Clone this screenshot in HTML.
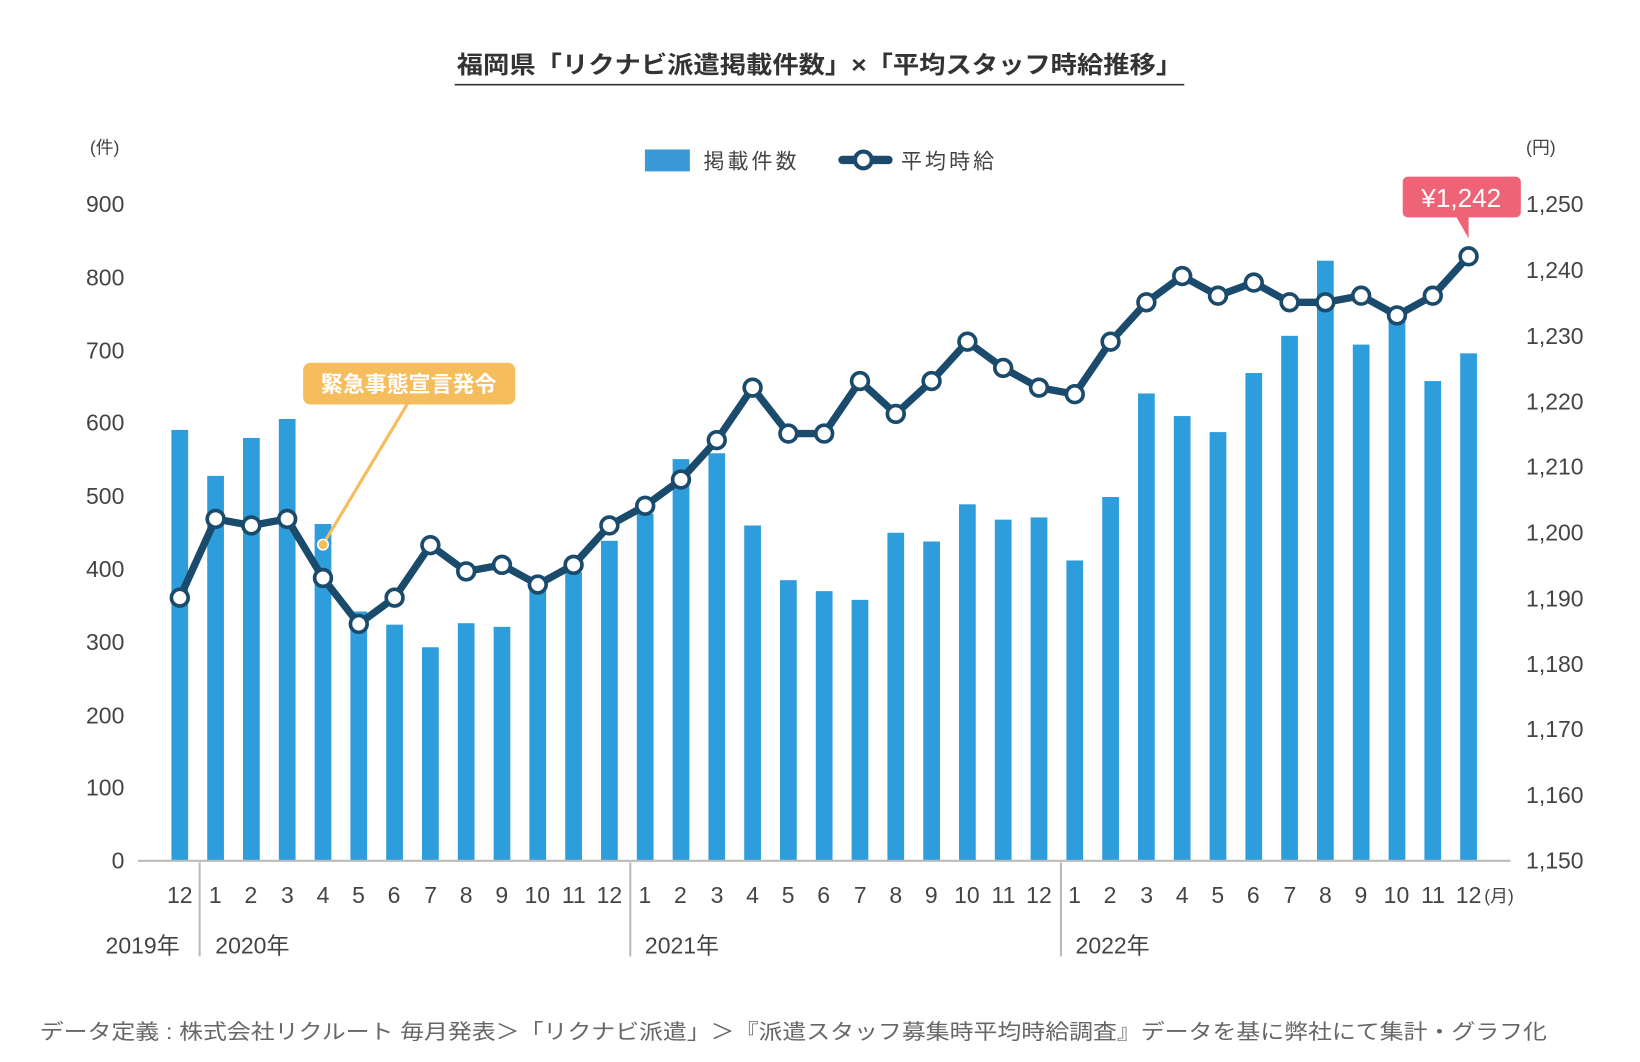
<!DOCTYPE html>
<html><head><meta charset="utf-8"><style>
html,body{margin:0;padding:0;background:#fff;}
svg{display:block;}
text{font-family:"Liberation Sans","Noto Sans CJK JP",sans-serif;fill:#444;}
</style></head><body>
<svg id="s" width="1640" height="1062" viewBox="0 0 1569 1016" preserveAspectRatio="none" xmlns="http://www.w3.org/2000/svg">
<text x="437" y="70" font-size="23" font-weight="bold" textLength="694" lengthAdjust="spacingAndGlyphs" style="fill:#333">福岡県「リクナビ派遣掲載件数」×「平均スタッフ時給推移」</text>
<line x1="435" y1="81" x2="1133" y2="81" stroke="#333" stroke-width="1.5"/>
<text x="86" y="147" font-size="17">(件)</text>
<text x="1460" y="147" font-size="17">(円)</text>
<rect x="617" y="143" width="43" height="21" fill="#3a9ad9"/>
<text x="673" y="161" font-size="20" textLength="89">掲載件数</text>
<line x1="806" y1="153" x2="850" y2="153" stroke="#1a4a6c" stroke-width="8" stroke-linecap="round"/>
<circle cx="826" cy="153" r="8" fill="#fff" stroke="#1a4a6c" stroke-width="4"/>
<text x="862" y="161" font-size="20" textLength="89">平均時給</text>
<g font-size="22" text-anchor="end">
<text x="119" y="203">900</text><text x="119" y="273">800</text><text x="119" y="343">700</text><text x="119" y="412">600</text><text x="119" y="482">500</text><text x="119" y="552">400</text><text x="119" y="622">300</text><text x="119" y="692">200</text><text x="119" y="761">100</text><text x="119" y="831">0</text>
</g>
<g font-size="22">
<text x="1460" y="203">1,250</text><text x="1460" y="266">1,240</text><text x="1460" y="329">1,230</text><text x="1460" y="392">1,220</text><text x="1460" y="454">1,210</text><text x="1460" y="517">1,200</text><text x="1460" y="580">1,190</text><text x="1460" y="643">1,180</text><text x="1460" y="705">1,170</text><text x="1460" y="768">1,160</text><text x="1460" y="831">1,150</text>
</g>
<g id="bars"></g>
<line x1="132" y1="823.5" x2="1445" y2="823.5" stroke="#bbb" stroke-width="2"/>
<g stroke="#bbb" stroke-width="2"><line x1="191" y1="825" x2="191" y2="915"/><line x1="603" y1="825" x2="603" y2="915"/><line x1="1015" y1="825" x2="1015" y2="915"/></g>
<g font-size="22" text-anchor="middle">
<text x="172" y="864">12</text><text x="206" y="864">1</text><text x="240" y="864">2</text><text x="275" y="864">3</text><text x="309" y="864">4</text><text x="343" y="864">5</text><text x="377" y="864">6</text><text x="412" y="864">7</text><text x="446" y="864">8</text><text x="480" y="864">9</text><text x="514" y="864">10</text><text x="549" y="864">11</text><text x="583" y="864">12</text>
<text x="617" y="864">1</text><text x="651" y="864">2</text><text x="686" y="864">3</text><text x="720" y="864">4</text><text x="754" y="864">5</text><text x="788" y="864">6</text><text x="823" y="864">7</text><text x="857" y="864">8</text><text x="891" y="864">9</text><text x="925" y="864">10</text><text x="960" y="864">11</text><text x="994" y="864">12</text>
<text x="1028" y="864">1</text><text x="1062" y="864">2</text><text x="1097" y="864">3</text><text x="1131" y="864">4</text><text x="1165" y="864">5</text><text x="1199" y="864">6</text><text x="1234" y="864">7</text><text x="1268" y="864">8</text><text x="1302" y="864">9</text><text x="1336" y="864">10</text><text x="1371" y="864">11</text><text x="1405" y="864">12</text>
</g>
<text x="1420" y="863" font-size="17">(月)</text>
<g font-size="22">
<text x="101" y="912">2019年</text><text x="206" y="912">2020年</text><text x="617" y="912">2021年</text><text x="1029" y="912">2022年</text>
</g>
<g id="line"></g>
<line x1="309" y1="521" x2="390" y2="386" stroke="#f5bd5c" stroke-width="3"/>
<circle cx="309" cy="521" r="5" fill="#f5bd5c" stroke="#fff" stroke-width="1.5"/>
<rect x="290" y="347" width="203" height="40" rx="7" fill="#f5bd5c"/>
<text x="391" y="375" text-anchor="middle" font-size="21" font-weight="bold" style="fill:#fff">緊急事態宣言発令</text>
<rect x="1342" y="169" width="113" height="39" rx="5" fill="#ef6376"/>
<polygon points="1393,207 1405,207 1405,228" fill="#ef6376"/>
<text x="1398" y="198" text-anchor="middle" font-size="25" style="fill:#fff">¥1,242</text>
<text x="38" y="994" font-size="20" textLength="1442" lengthAdjust="spacingAndGlyphs" style="fill:#666">データ定義 : 株式会社リクルート 毎月発表＞「リクナビ派遣」＞『派遣スタッフ募集時平均時給調査』データを基に弊社にて集計・グラフ化</text>
</svg>
<script>
var b=[590,527,579,605,461,341,323,292,325,320,372,395,438,475,550,558,459,384,369,357,449,437,488,467,470,411,498,640,609,587,668,719,822,707,740,657,695];
var w=[1190,1202,1201,1202,1193,1186,1190,1198,1194,1195,1192,1195,1201,1204,1208,1214,1222,1215,1215,1223,1218,1223,1229,1225,1222,1221,1229,1235,1239,1236,1238,1235,1235,1236,1233,1236,1242];
var NS="http://www.w3.org/2000/svg",gb=document.getElementById("bars"),gl=document.getElementById("line");
function el(n,a,p){var e=document.createElementNS(NS,n);for(var k in a)e.setAttribute(k,a[k]);p.appendChild(e);return e;}
var pts=[];
for(var i=0;i<37;i++){var x=172+i*34.25,h=b[i]*0.6978;
el("rect",{x:x-8,y:823-h,width:16,height:h,fill:"#2e9ddb"},gb);
pts.push(x+","+(823-(w[i]-1150)*6.28));}
el("polyline",{points:pts.join(" "),fill:"none",stroke:"#1a4a6c","stroke-width":7,"stroke-linejoin":"round"},gl);
pts.forEach(function(p){var c=p.split(",");el("circle",{cx:c[0],cy:c[1],r:8,fill:"#fff",stroke:"#1a4a6c","stroke-width":3.5},gl);});
</script>
</body></html>
